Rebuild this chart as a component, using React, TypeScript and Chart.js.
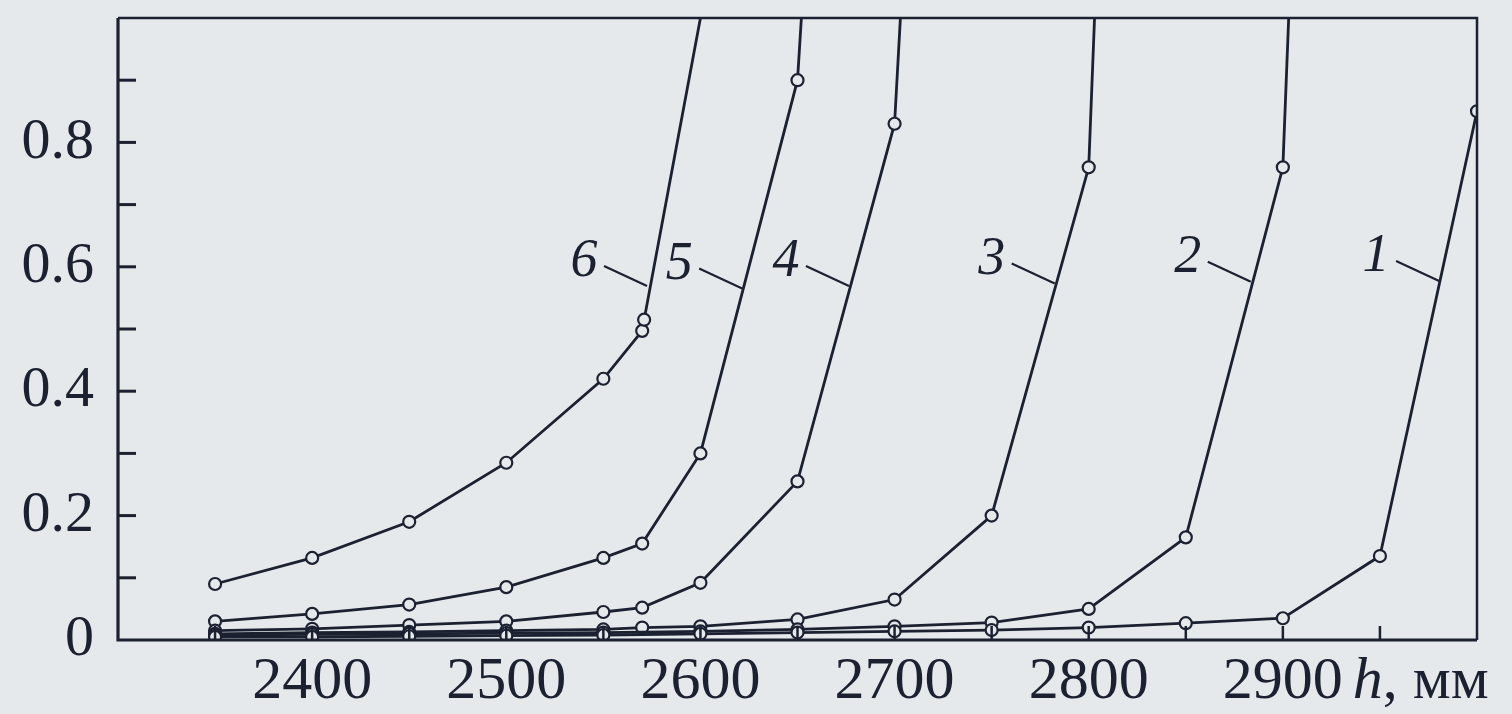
import React, { useEffect, useRef } from 'react';
import { Chart, registerables } from 'chart.js';

Chart.register(...registerables);

// ---- data (h in mm, ordinate values) ----
const curve1X = [2350, 2400, 2450, 2500, 2550, 2600, 2650, 2700, 2750, 2800, 2850, 2900, 2950, 3000];
const curve1Y = [0.005, 0.005, 0.006, 0.007, 0.008, 0.010, 0.012, 0.014, 0.016, 0.020, 0.027, 0.035, 0.135, 0.85];

const curve2X = [2350, 2400, 2450, 2500, 2550, 2600, 2650, 2700, 2750, 2800, 2850, 2900, 2903];
const curve2Y = [0.008, 0.009, 0.010, 0.011, 0.012, 0.014, 0.017, 0.022, 0.028, 0.050, 0.165, 0.76, 1.0];

const curve3X = [2350, 2400, 2450, 2500, 2550, 2570, 2600, 2650, 2700, 2750, 2800, 2803];
const curve3Y = [0.010, 0.012, 0.013, 0.015, 0.017, 0.020, 0.022, 0.033, 0.065, 0.20, 0.76, 1.0];

const curve4X = [2350, 2400, 2450, 2500, 2550, 2570, 2600, 2650, 2700, 2703];
const curve4Y = [0.015, 0.018, 0.024, 0.030, 0.045, 0.052, 0.092, 0.255, 0.83, 1.0];

const curve5X = [2350, 2400, 2450, 2500, 2550, 2570, 2600, 2650, 2652];
const curve5Y = [0.030, 0.042, 0.057, 0.085, 0.132, 0.155, 0.30, 0.90, 1.0];

const curve6X = [2350, 2400, 2450, 2500, 2550, 2570, 2571, 2600];
const curve6Y = [0.090, 0.132, 0.190, 0.285, 0.420, 0.497, 0.515, 1.0];

const curveNames = ['1', '2', '3', '4', '5', '6'];
// point on each curve where the numbered leader line touches it
const labelAnchorX = [2981, 2884, 2783, 2677, 2622, 2573];
const labelAnchorY = [0.577, 0.576, 0.573, 0.569, 0.565, 0.569];

const yTickValues = [0, 0.2, 0.4, 0.6, 0.8];
const xTickValues = [2400, 2500, 2600, 2700, 2800, 2900];
const xUnitItalic = 'h';
const xUnitRest = ', мм';

const INK = '#1b2130';
const PAPER = '#e6e9ec';
const SERIF = '"Liberation Serif", "DejaVu Serif", serif';

export default function App() {
  const ref = useRef<HTMLCanvasElement>(null);

  useEffect(() => {
    document.body.style.margin = '0';
    document.body.style.background = PAPER;
    const canvas = ref.current!;

    const xs = [curve1X, curve2X, curve3X, curve4X, curve5X, curve6X];
    const ys = [curve1Y, curve2Y, curve3Y, curve4Y, curve5Y, curve6Y];

    const datasets = xs.map((arr, k) => ({
      label: curveNames[k],
      data: arr.map((x, i) => ({ x, y: ys[k][i] })),
      borderColor: INK,
      borderWidth: 2.8,
      pointRadius: (c: any) => (c.raw && c.raw.y >= 1 ? 0 : 6),
      pointBorderWidth: 2.2,
      pointBackgroundColor: PAPER,
      pointBorderColor: INK,
      fill: false,
      tension: 0,
    }));

    const decor = {
      id: 'decor',
      afterDraw(chart: any) {
        const { ctx, chartArea: a, scales } = chart;
        const xS = scales.x;
        const yS = scales.y;
        ctx.save();
        ctx.strokeStyle = INK;
        ctx.lineCap = 'butt';
        // frame
        ctx.lineWidth = 2.5;
        ctx.beginPath();
        ctx.moveTo(a.left, a.top);
        ctx.lineTo(a.right, a.top);
        ctx.lineTo(a.right, a.bottom);
        ctx.stroke();
        ctx.lineWidth = 3.2;
        ctx.beginPath();
        ctx.moveTo(a.left, a.top);
        ctx.lineTo(a.left, a.bottom);
        ctx.lineTo(a.right, a.bottom);
        ctx.stroke();
        // inward y ticks
        ctx.lineWidth = 3;
        for (let v = 1; v <= 9; v++) {
          const py = yS.getPixelForValue(v / 10);
          ctx.beginPath();
          ctx.moveTo(a.left, py);
          ctx.lineTo(a.left + 18, py);
          ctx.stroke();
        }
        // inward x ticks
        ctx.lineWidth = 2.5;
        for (let v = 2350; v < 3000; v += 50) {
          const px = xS.getPixelForValue(v);
          ctx.beginPath();
          ctx.moveTo(px, a.bottom);
          ctx.lineTo(px, a.bottom - 14);
          ctx.stroke();
        }
        // curve number labels with leader lines
        ctx.fillStyle = INK;
        ctx.lineWidth = 2.2;
        ctx.font = `italic 54px ${SERIF}`;
        ctx.textAlign = 'center';
        ctx.textBaseline = 'middle';
        curveNames.forEach((name, k) => {
          const ex = xS.getPixelForValue(labelAnchorX[k]);
          const ey = yS.getPixelForValue(labelAnchorY[k]);
          ctx.beginPath();
          ctx.moveTo(ex - 44, ey - 20);
          ctx.lineTo(ex - 1, ey);
          ctx.stroke();
          ctx.fillText(name, ex - 64, ey - 24);
        });
        // axis unit after the last x label
        const px2900 = xS.getPixelForValue(2900);
        ctx.font = `60px ${SERIF}`;
        const w = ctx.measureText('2900').width;
        let items: any[] = [];
        try { items = xS.getLabelItems(); } catch (e) { items = []; }
        const it = items.find((i: any) => i.label === '2900');
        let ty = a.bottom + 12 + 30;
        let base = 'middle';
        if (it) {
          ty = it.options.translation[1] + (it.textOffset || 0);
          base = it.options.textBaseline || 'middle';
        }
        ctx.textBaseline = base as CanvasTextBaseline;
        ctx.textAlign = 'left';
        let cx = px2900 + w / 2 + 10;
        ctx.font = `italic 60px ${SERIF}`;
        ctx.fillText(xUnitItalic, cx, ty);
        cx += ctx.measureText(xUnitItalic).width;
        ctx.font = `60px ${SERIF}`;
        ctx.fillText(xUnitRest, cx, ty);
        ctx.restore();
      },
    };

    const zeroPad = (s: any) => {
      s.paddingTop = 0;
      s.paddingBottom = 0;
      s.paddingLeft = 0;
      s.paddingRight = 0;
    };

    const chart = new Chart(canvas, {
      type: 'line',
      data: { datasets },
      options: {
        animation: false,
        responsive: true,
        maintainAspectRatio: false,
        layout: { padding: { left: 18, right: 35, top: 18, bottom: 0 } },
        plugins: { legend: { display: false }, tooltip: { enabled: false } },
        scales: {
          x: {
            type: 'linear',
            min: 2300,
            max: 3000,
            grid: { display: false, drawTicks: false, tickLength: 0 },
            border: { display: false },
            afterFit: (s: any) => { s.height = 74; zeroPad(s); },
            ticks: {
              stepSize: 100,
              autoSkip: false,
              maxRotation: 0,
              padding: 12,
              color: INK,
              font: { family: SERIF, size: 60, lineHeight: 1 },
              callback: (v: any) => (xTickValues.includes(Number(v)) ? String(v) : null),
            },
          },
          y: {
            type: 'linear',
            min: 0,
            max: 1,
            grid: { display: false, drawTicks: false, tickLength: 0 },
            border: { display: false },
            afterFit: (s: any) => { s.width = 100; zeroPad(s); },
            ticks: {
              stepSize: 0.2,
              autoSkip: false,
              padding: 24,
              color: INK,
              font: { family: SERIF, size: 58, lineHeight: 1 },
              callback: (v: any) => {
                const n = Math.round(Number(v) * 10) / 10;
                if (!yTickValues.includes(n)) return null;
                return n === 0 ? '0' : n.toFixed(1);
              },
            },
          },
        },
      },
      plugins: [decor],
    });

    return () => chart.destroy();
  }, []);

  return (
    <div style={{ width: 1512, height: 714, position: 'relative', background: PAPER }}>
      <canvas ref={ref} />
    </div>
  );
}
